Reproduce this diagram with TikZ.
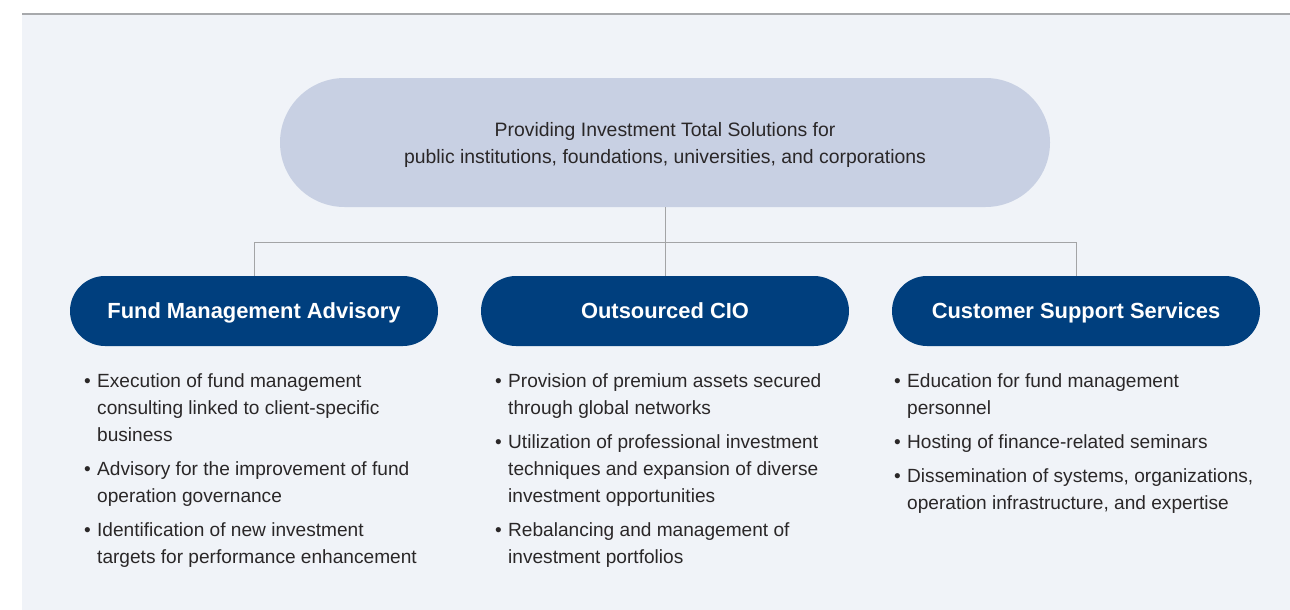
\documentclass[tikz,border=0pt]{standalone}
\usepackage{fontspec}
\setmainfont{Liberation Sans}
\usepackage{xcolor}

\definecolor{paleblue}{HTML}{F0F3F8}
\definecolor{pillgray}{HTML}{C8D0E3}
\definecolor{navy}{HTML}{003F7E}
\definecolor{inkgray}{HTML}{2A2728}
\definecolor{rulegray}{HTML}{A7A9AC}
\definecolor{linkgray}{HTML}{A3A4A6}

\newcommand{\bodyfont}{\fontsize{19.4}{27}\selectfont}
\newcommand{\listfont}{\fontsize{19.1}{27}\selectfont}
\newcommand{\bul}{\makebox[13pt][l]{\textbullet}}

\begin{document}
\begin{tikzpicture}[x=1pt,y=-1pt,
        topbox/.style={fill=pillgray, rounded corners=64.5pt, minimum width=770pt,
            minimum height=129pt, align=center, text=inkgray, font=\bodyfont,
            text depth=0pt},
        servicebox/.style={fill=navy, rounded corners=35pt, minimum width=368pt,
            minimum height=70pt, text=white, text depth=0pt,
            font=\bfseries\fontsize{21.9}{25}\selectfont},
        itemlist/.style={anchor=base west, inner sep=0pt, text=inkgray, font=\listfont},
        link/.style={draw=linkgray, line width=0.9pt}]
        \useasboundingbox (0,0) rectangle (1290,610);

        % background panel and top rule
        \fill[paleblue] (22,15) rectangle (1290,610);
        \draw[rulegray, line width=2pt] (22,14) -- (1290,14);

        % the main box
        \node[topbox] (top) at (665,142.5)
            {Providing Investment Total Solutions for\\
             public institutions, foundations, universities, and corporations};

        % the three services
        \node[servicebox] (fma)  at (254,311)  {Fund Management Advisory};
        \node[servicebox] (ocio) at (665,311)  {Outsourced CIO};
        \node[servicebox] (css)  at (1076,311) {Customer Support Services};

        % connectors
        \coordinate (hub) at (665,242);
        \draw[link] (top.south) -- (hub);
        \draw[link] (hub) -| (fma.north);
        \draw[link] (hub) -- (ocio.north);
        \draw[link] (hub) -| (css.north);

        % the bullet lists
        \node[itemlist] (fmalist) at (84,387) {\begin{tabular}[t]{@{}l@{}l@{}}
            \bul & Execution of fund management\\
                 & consulting linked to client-specific\\
                 & business\\[7pt]
            \bul & Advisory for the improvement of fund\\
                 & operation governance\\[7pt]
            \bul & Identification of new investment\\
                 & targets for performance enhancement
            \end{tabular}};

        \node[itemlist] (ociolist) at (495,387) {\begin{tabular}[t]{@{}l@{}l@{}}
            \bul & Provision of premium assets secured\\
                 & through global networks\\[7pt]
            \bul & Utilization of professional investment\\
                 & techniques and expansion of diverse\\
                 & investment opportunities\\[7pt]
            \bul & Rebalancing and management of\\
                 & investment portfolios
            \end{tabular}};

        \node[itemlist] (csslist) at (894,387) {\begin{tabular}[t]{@{}l@{}l@{}}
            \bul & Education for fund management\\
                 & personnel\\[7pt]
            \bul & Hosting of finance-related seminars\\[7pt]
            \bul & Dissemination of systems, organizations,\\
                 & operation infrastructure, and expertise
            \end{tabular}};
\end{tikzpicture}
\end{document}
